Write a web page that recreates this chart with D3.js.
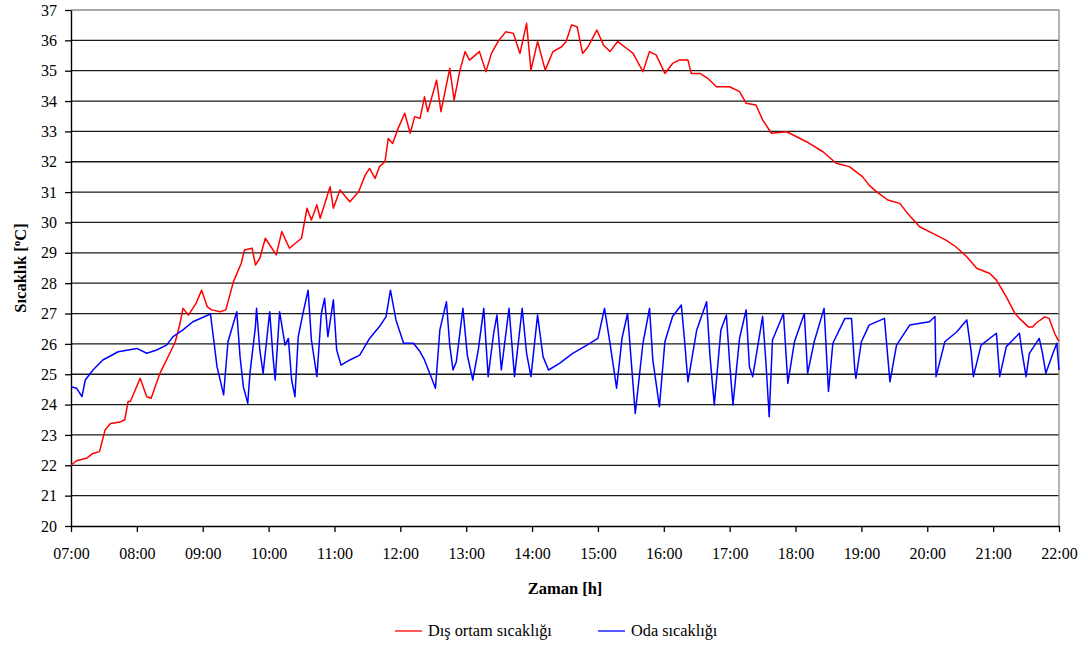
<!DOCTYPE html>
<html>
<head>
<meta charset="utf-8">
<script src="https://cdn.jsdelivr.net/npm/d3@7"></script>
<style>
  body { margin: 0; background: #fff; }
  svg { display: block; }
  text { font-family: "Liberation Serif", "Times New Roman", Times, serif; fill: #000; }
</style>
</head>
<body>
<svg id="chart" width="1088" height="645"></svg>
<script>
// Axis tick labels
const timeTicks = ["07:00","08:00","09:00","10:00","11:00","12:00","13:00","14:00",
                   "15:00","16:00","17:00","18:00","19:00","20:00","21:00","22:00"];
const tempTicks = [20,21,22,23,24,25,26,27,28,29,30,31,32,33,34,35,36,37];

// Dış ortam sıcaklığı (outdoor temperature)
const outdoorTimes = ["07:00","07:05","07:14","07:20","07:26","07:31","07:36","07:45","07:49","07:52",
  "07:54","07:57","08:03","08:09","08:13","08:21","08:30","08:35","08:39","08:42",
  "08:47","08:54","08:59","09:04","09:08","09:16","09:21","09:28","09:35","09:38",
  "09:45","09:48","09:52","09:57","10:07","10:12","10:19","10:30","10:35","10:39",
  "10:44","10:47","10:56","10:59","11:05","11:14","11:22","11:28","11:32","11:37",
  "11:41","11:46","11:49","11:53","11:58","12:04","12:09","12:13","12:18","12:22",
  "12:25","12:33","12:37","12:45","12:49","12:54","12:59","13:03","13:12","13:18",
  "13:23","13:29","13:36","13:43","13:49","13:55","13:59","14:05","14:12","14:19",
  "14:27","14:31","14:36","14:41","14:46","14:51","14:59","15:05","15:11","15:18",
  "15:26","15:32","15:41","15:47","15:53","16:01","16:08","16:14","16:22","16:25",
  "16:33","16:40","16:48","17:00","17:09","17:15","17:24","17:30","17:38","17:52",
  "18:10","18:25","18:37","18:49","19:01","19:07","19:14","19:18","19:24","19:35",
  "19:42","19:53","20:05","20:17","20:26","20:36","20:45","20:57","21:03","21:12",
  "21:20","21:24","21:32","21:36","21:39","21:47","21:51","21:56","21:59","22:00"];
const outdoorTemps = [22.0,22.15,22.23,22.39,22.45,23.16,23.38,23.43,23.5,24.1,
  24.1,24.35,24.87,24.26,24.21,25.03,25.69,26.07,26.62,27.17,
  26.95,27.34,27.77,27.23,27.12,27.06,27.12,28.05,28.65,29.09,
  29.15,28.6,28.82,29.48,28.93,29.7,29.15,29.48,30.47,30.08,
  30.58,30.14,31.18,30.47,31.07,30.68,31.01,31.56,31.78,31.45,
  31.84,32.0,32.77,32.6,33.1,33.6,32.94,33.48,33.43,34.14,
  33.65,34.69,33.65,35.08,34.03,34.97,35.63,35.35,35.63,34.97,
  35.57,35.96,36.28,36.23,35.57,36.56,35.02,35.96,35.02,35.63,
  35.79,35.96,36.51,36.45,35.57,35.79,36.34,35.85,35.63,35.96,
  35.74,35.57,34.97,35.63,35.52,34.91,35.24,35.35,35.35,34.91,
  34.91,34.75,34.47,34.47,34.31,33.93,33.87,33.38,32.94,32.99,
  32.66,32.33,31.95,31.84,31.51,31.23,31.01,30.9,30.74,30.63,
  30.3,29.86,29.64,29.42,29.2,28.87,28.49,28.32,28.1,27.55,
  27.0,26.84,26.56,26.56,26.68,26.89,26.84,26.35,26.13,26.1];

// Oda sıcaklığı (room temperature)
const roomTimes = ["07:00","07:05","07:10","07:13","07:20","07:29","07:43","08:00","08:09","08:18",
  "08:27","08:33","08:42","08:51","09:05","09:07","09:10","09:13","09:17","09:19",
  "09:23","09:31","09:34","09:37","09:41","09:43","09:48","09:49","09:52","09:55",
  "10:01","10:04","10:06","10:10","10:15","10:18","10:21","10:24","10:27","10:32",
  "10:36","10:39","10:44","10:48","10:51","10:54","10:59","11:02","11:06","11:14",
  "11:23","11:32","11:41","11:47","11:51","11:56","12:03","12:12","12:18","12:22",
  "12:28","12:32","12:36","12:42","12:45","12:48","12:51","12:57","13:01","13:06",
  "13:11","13:16","13:20","13:25","13:28","13:32","13:39","13:44","13:51","13:55",
  "13:59","14:05","14:10","14:15","14:25","14:37","14:50","15:00","15:06","15:11",
  "15:17","15:22","15:27","15:34","15:41","15:47","15:50","15:56","16:01","16:08",
  "16:16","16:19","16:22","16:30","16:39","16:42","16:46","16:52","16:57","17:00",
  "17:03","17:09","17:15","17:18","17:21","17:30","17:33","17:36","17:39","17:49",
  "17:53","17:59","18:08","18:11","18:17","18:26","18:30","18:34","18:45","18:51",
  "18:54","18:55","19:00","19:07","19:21","19:24","19:26","19:32","19:44","20:02",
  "20:07","20:08","20:16","20:27","20:36","20:40","20:42","20:49","21:03","21:06",
  "21:12","21:24","21:26","21:30","21:33","21:42","21:45","21:48","21:55","21:58","22:00"];
const roomTemps = [24.59,24.54,24.26,24.81,25.14,25.47,25.74,25.85,25.69,25.8,
  25.96,26.24,26.46,26.73,26.95,27.0,26.13,25.25,24.64,24.32,
  26.07,27.06,25.58,24.59,24.04,25.03,26.57,27.17,25.8,25.03,
  27.06,25.58,24.81,27.06,25.96,26.18,24.81,24.26,26.24,27.12,
  27.77,26.13,24.92,27.0,27.5,26.24,27.45,25.8,25.3,25.47,
  25.63,26.18,26.57,26.9,27.77,26.79,26.02,26.02,25.74,25.47,
  24.92,24.54,26.46,27.39,25.96,25.14,25.41,27.17,25.63,24.81,
  25.8,27.17,24.92,26.35,26.95,25.14,27.17,24.92,27.17,25.69,
  24.92,26.95,25.58,25.14,25.36,25.69,25.96,26.18,27.17,26.02,
  24.54,26.2,27.0,23.71,26.02,27.17,25.47,23.93,26.07,26.9,
  27.28,26.07,24.75,26.46,27.39,25.63,23.99,26.46,26.95,25.36,
  23.99,26.18,27.12,25.25,24.92,26.9,25.41,23.6,26.13,27.0,
  24.7,26.07,27.0,25.03,26.07,27.17,24.43,26.02,26.84,26.84,
  25.14,24.86,26.07,26.62,26.84,25.58,24.75,25.96,26.62,26.73,
  26.9,24.92,26.07,26.4,26.79,25.74,24.92,25.96,26.35,24.92,
  25.91,26.35,25.8,24.92,25.69,26.18,25.69,25.03,25.74,26.02,25.14];

const svg = d3.select("#chart");
const plotLeft = 71, plotRight = 1059, plotTop = 10, plotBottom = 526;
const serif = "'Liberation Serif', 'Times New Roman', Times, serif";

const parseTime = d3.timeParse("%H:%M");
const x = d3.scaleTime()
  .domain([parseTime(timeTicks[0]), parseTime(timeTicks[timeTicks.length - 1])])
  .range([plotLeft, plotRight]);
const y = d3.scaleLinear()
  .domain([tempTicks[0], tempTicks[tempTicks.length - 1]])
  .range([plotBottom, plotTop]);

// Horizontal gridlines
svg.append("g")
  .selectAll("line")
  .data(tempTicks.slice(1, -1))
  .join("line")
  .attr("x1", plotLeft).attr("x2", plotRight)
  .attr("y1", d => y(d)).attr("y2", d => y(d))
  .attr("stroke", "#1a1a1a").attr("stroke-width", 1.3);

// Plot frame (top and right)
svg.append("path")
  .attr("d", `M${plotLeft},${y(tempTicks[tempTicks.length - 1])}H${plotRight}V${plotBottom}`)
  .attr("fill", "none").attr("stroke", "#8c8c8c").attr("stroke-width", 1.3);

// Axes
const xAxis = svg.append("g")
  .attr("transform", `translate(0,${plotBottom})`)
  .call(d3.axisBottom(x)
    .tickValues(timeTicks.map(parseTime))
    .tickFormat(d3.timeFormat("%H:%M"))
    .tickSize(6).tickSizeOuter(0).tickPadding(16));
const yAxis = svg.append("g")
  .attr("transform", `translate(${plotLeft},0)`)
  .call(d3.axisLeft(y)
    .tickValues(tempTicks)
    .tickFormat(d3.format("d"))
    .tickSize(6).tickSizeOuter(0).tickPadding(8));
[xAxis, yAxis].forEach(g => {
  g.attr("font-family", serif);
  g.select(".domain").attr("stroke", "#000").attr("stroke-width", 1.4);
  g.selectAll(".tick line").attr("stroke", "#000").attr("stroke-width", 1.3);
  g.selectAll(".tick text").attr("font-size", "16px").attr("fill", "#000");
});

// Series lines
const line = d3.line().x(d => x(d[0])).y(d => y(d[1]));
const outdoorData = outdoorTimes.map((t, i) => [parseTime(t), outdoorTemps[i]]);
const roomData = roomTimes.map((t, i) => [parseTime(t), roomTemps[i]]);

svg.append("path").datum(outdoorData)
  .attr("d", line).attr("fill", "none")
  .attr("stroke", "#ff0000").attr("stroke-width", 1.5).attr("stroke-linejoin", "round");
svg.append("path").datum(roomData)
  .attr("d", line).attr("fill", "none")
  .attr("stroke", "#0000ff").attr("stroke-width", 1.5).attr("stroke-linejoin", "round");

// Axis titles
svg.append("text")
  .attr("x", (plotLeft + plotRight) / 2).attr("y", 594)
  .attr("text-anchor", "middle")
  .attr("font-size", "16.5px").attr("font-weight", "bold")
  .text("Zaman [h]");

const yTitle = svg.append("text")
  .attr("transform", `translate(26,${(plotTop + plotBottom) / 2}) rotate(-90)`)
  .attr("text-anchor", "middle")
  .attr("font-size", "16.5px").attr("font-weight", "bold");
yTitle.append("tspan").text("Sıcaklık [");
yTitle.append("tspan").attr("font-size", "11px").attr("dy", "-6").text("o");
yTitle.append("tspan").attr("dy", "6").text("C]");

// Legend
const legendItems = [
  { label: "Dış ortam sıcaklığı", color: "#ff0000", x: 395 },
  { label: "Oda sıcaklığı", color: "#0000ff", x: 598 }
];
const legend = svg.append("g");
legendItems.forEach(item => {
  legend.append("line")
    .attr("x1", item.x).attr("x2", item.x + 27)
    .attr("y1", 631).attr("y2", 631)
    .attr("stroke", item.color).attr("stroke-width", 1.3);
  legend.append("text")
    .attr("x", item.x + 33).attr("y", 636)
    .attr("font-size", "16.3px")
    .text(item.label);
});
</script>
</body>
</html>
